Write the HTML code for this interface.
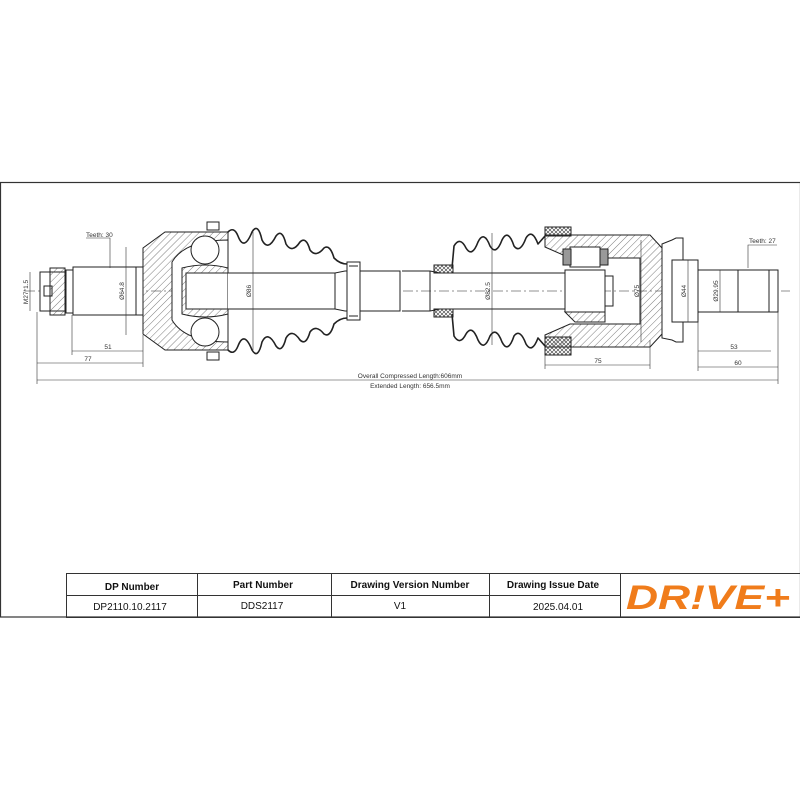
<!DOCTYPE html>
<html><head><style>body{margin:0;background:#fff}svg{display:block}</style></head><body>
<svg width="800" height="800" viewBox="0 0 800 800" xmlns="http://www.w3.org/2000/svg" font-family="Liberation Sans, sans-serif">
<defs>
<pattern id="h" width="5" height="5" patternUnits="userSpaceOnUse" patternTransform="rotate(45)"><line x1="0" y1="0" x2="0" y2="5" stroke="#444" stroke-width="0.7"/></pattern>
<pattern id="x" width="4" height="4" patternUnits="userSpaceOnUse"><path d="M0 0L4 4M4 0L0 4" stroke="#333" stroke-width="0.6"/></pattern>
</defs>
<rect x="0.5" y="182.5" width="800" height="434.5" fill="none" stroke="#333" stroke-width="1.2"/>
<g stroke="#222" stroke-width="1" fill="none">
<line x1="25" y1="291" x2="790" y2="291" stroke-dasharray="10,3,2,3" stroke-width="0.6"/>
<rect x="40" y="272" width="26" height="39" fill="#fff"/>
<path d="M50 268h15v47H50z" fill="url(#h)"/>
<rect x="44" y="286" width="8" height="10"/>
<rect x="66" y="270" width="7" height="43" fill="#fff"/>
<rect x="73" y="267" width="70" height="48" fill="#fff"/>
<line x1="136" y1="267" x2="136" y2="315"/>
<path d="M143 262 L143 248 L165 232 L228 232 L228 350 L165 350 L143 334 L143 320 Z" fill="url(#h)"/>
<path d="M172 262 Q185 240 228 240 L228 342 Q185 342 172 320 Z" fill="#fff"/>
<circle cx="205" cy="250" r="14" fill="#fff"/><circle cx="205" cy="332" r="14" fill="#fff"/>
<path d="M182 268 Q205 262 228 268 L228 314 Q205 320 182 314 Z" fill="url(#h)"/>
<rect x="186" y="273" width="42" height="36" fill="#fff"/>
<rect x="207" y="222" width="12" height="8" fill="#fff"/><rect x="207" y="352" width="12" height="8" fill="#fff"/>
<path d="M228 273 L335 273 L345 271 L400 271 L400 311 L345 311 L335 309 L228 309" fill="#fff"/>
<line x1="335" y1="273" x2="335" y2="309"/>
<path d="M402 271 L430 271 L440 273 L565 273 M402 311 L430 311 L440 309 L565 309"/>
<line x1="430" y1="271" x2="430" y2="311"/>
<rect x="347" y="262" width="13" height="58" fill="#fff"/>
<line x1="349" y1="266" x2="358" y2="266"/><line x1="349" y1="316" x2="358" y2="316"/>
<g stroke-linejoin="round" stroke-width="1.6">
<path d="M228 232 Q234 226 238 236 Q244 252 252 232 Q258 222 262 240 Q268 252 276 236 Q282 228 286 244 Q292 254 300 242 Q306 236 310 250 Q316 258 324 248 Q330 244 334 258 Q340 264 347 264"/>
<path d="M228 350 Q234 356 238 346 Q244 330 252 350 Q258 360 262 342 Q268 330 276 346 Q282 354 286 338 Q292 328 300 340 Q306 346 310 332 Q316 324 324 334 Q330 338 334 324 Q340 318 347 318"/>
<path d="M452 268 L454 246 Q460 236 466 248 Q472 258 478 242 Q484 230 490 246 Q496 256 502 240 Q508 228 514 246 Q520 254 526 238 Q532 228 538 244 L545 236"/>
<path d="M452 314 L454 336 Q460 346 466 334 Q472 324 478 340 Q484 352 490 336 Q496 326 502 342 Q508 354 514 336 Q520 328 526 344 Q532 354 538 338 L545 346"/>
</g>
<rect x="434" y="265" width="19" height="8" fill="url(#x)"/><rect x="434" y="309" width="19" height="8" fill="url(#x)"/>
<path d="M545 235 L650 235 L662 248 L662 334 L650 347 L545 347 L545 335 L570 324 L640 324 L640 258 L570 258 L545 247 Z" fill="url(#h)"/>
<rect x="545" y="227" width="26" height="9" fill="url(#x)"/><rect x="545" y="337" width="26" height="18" fill="url(#x)"/>
<rect x="565" y="270" width="40" height="42" fill="#fff"/>
<path d="M565 312 L605 312 L605 322 L575 322 Z" fill="url(#h)"/>
<rect x="570" y="247" width="30" height="20" fill="#fff"/>
<rect x="563" y="249" width="8" height="16" fill="#999"/><rect x="600" y="249" width="8" height="16" fill="#999"/>
<path d="M605 276 h8 v30 h-8"/>
<path d="M662 244 L672 240 L676 238 L683 238 L683 342 L676 342 L672 340 L662 338 Z" fill="#fff"/>
<rect x="672" y="260" width="26" height="62" fill="#fff"/>
<rect x="698" y="270" width="40" height="42" fill="#fff"/>
<rect x="738" y="270" width="40" height="42" fill="#fff"/>
<line x1="769" y1="270" x2="769" y2="312"/>
</g>
<g stroke="#333" stroke-width="0.6" fill="none">
<line x1="37" y1="363" x2="143" y2="363"/><line x1="72" y1="351" x2="143" y2="351"/>
<line x1="37" y1="380" x2="778" y2="380"/>
<line x1="37" y1="312" x2="37" y2="384"/><line x1="72" y1="315" x2="72" y2="355"/><line x1="143" y1="335" x2="143" y2="367"/>
<line x1="30" y1="272" x2="30" y2="311"/><line x1="126" y1="247" x2="126" y2="335"/>
<line x1="253" y1="232" x2="253" y2="350"/><line x1="492" y1="233" x2="492" y2="345"/>
<line x1="641" y1="240" x2="641" y2="342"/><line x1="688" y1="260" x2="688" y2="322"/><line x1="720" y1="270" x2="720" y2="312"/>
<line x1="545" y1="365" x2="650" y2="365"/><line x1="545" y1="350" x2="545" y2="369"/><line x1="650" y1="340" x2="650" y2="369"/>
<line x1="698" y1="351" x2="771" y2="351"/><line x1="698" y1="367" x2="778" y2="367"/>
<line x1="698" y1="320" x2="698" y2="371"/><line x1="778" y1="312" x2="778" y2="384"/>
<polyline points="86,238 110,238 110,268"/><polyline points="777,245 748,245 748,268"/>
</g>
<g font-size="6.5" fill="#333">
<text x="86" y="237">Teeth: 30</text><text x="749" y="243">Teeth: 27</text>
<text x="88" y="361" text-anchor="middle">77</text><text x="108" y="349" text-anchor="middle">51</text>
<text x="598" y="363" text-anchor="middle">75</text><text x="734" y="349" text-anchor="middle">53</text><text x="738" y="365" text-anchor="middle">60</text>
<text x="410" y="378" text-anchor="middle">Overall Compressed Length:606mm</text>
<text x="410" y="388" text-anchor="middle">Extended Length: 656.5mm</text>
<text transform="translate(28,292) rotate(-90)" text-anchor="middle">M27*1.5</text>
<text transform="translate(124,291) rotate(-90)" text-anchor="middle">Ø64.8</text>
<text transform="translate(251,291) rotate(-90)" text-anchor="middle">Ø86</text>
<text transform="translate(490,291) rotate(-90)" text-anchor="middle">Ø82.5</text>
<text transform="translate(639,291) rotate(-90)" text-anchor="middle">Ø75</text>
<text transform="translate(686,291) rotate(-90)" text-anchor="middle">Ø44</text>
<text transform="translate(718,291) rotate(-90)" text-anchor="middle">Ø29.95</text>
</g>
<g stroke="#333" stroke-width="1" fill="none">
<rect x="66.5" y="573.5" width="734" height="44"/>
<line x1="66" y1="595.5" x2="620" y2="595.5"/>
<line x1="197.5" y1="573" x2="197.5" y2="617"/><line x1="331.5" y1="573" x2="331.5" y2="617"/>
<line x1="489.5" y1="573" x2="489.5" y2="617"/><line x1="620.5" y1="573" x2="620.5" y2="617"/>
</g>
<g font-size="10" text-anchor="middle" fill="#111">
<text x="132" y="590" font-weight="bold">DP Number</text><text x="263" y="588" font-weight="bold">Part Number</text>
<text x="410" y="588" font-weight="bold">Drawing Version Number</text><text x="553" y="588" font-weight="bold">Drawing Issue Date</text>
<text x="130" y="610">DP2110.10.2117</text><text x="262" y="609">DDS2117</text>
<text x="400" y="609">V1</text><text x="558" y="610">2025.04.01</text>
</g>
<text x="626" y="609" textLength="164" lengthAdjust="spacingAndGlyphs" font-size="34" font-weight="bold" font-style="italic" fill="#f07c1b">DR!VE+</text>
</svg>
</body></html>
